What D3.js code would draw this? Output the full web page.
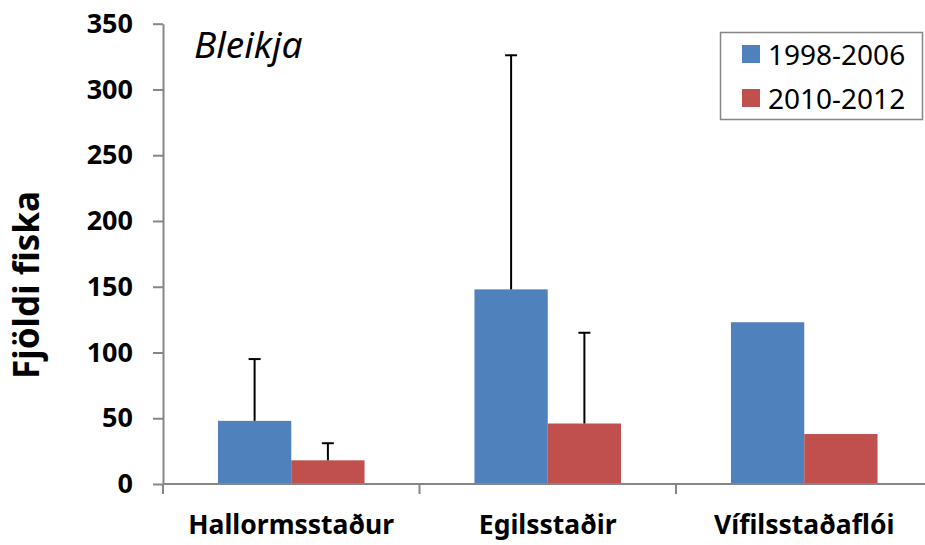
<!DOCTYPE html>
<html lang="en">
<head>
<meta charset="UTF-8" />
<title>Bleikja</title>
<script src="https://cdn.jsdelivr.net/npm/d3@7/dist/d3.min.js"></script>
<style>
  body { margin: 0; background: #fff; }
  svg text { font-family: "Noto Sans", "Open Sans", sans-serif; }
</style>
</head>
<body>
<svg id="svg"></svg>
<script>
const width = 925;
const height = 545;

// data
const categories = ["Hallormsstaður", "Egilsstaðir", "Vífilsstaðaflói"];
const seriesNames = ["1998-2006", "2010-2012"];
const values1998 = [48, 148, 123];
const values2010 = [18, 46, 38];
// upper end of the error bars (null = none)
const err1998 = [95, 326, null];
const err2010 = [31, 115, null];
const yTicks = [0, 50, 100, 150, 200, 250, 300, 350];
const colors = ["#4F81BD", "#C0504D"];

const rows = categories.map((c, i) => ({
  cat: c,
  bars: [
    { s: seriesNames[0], v: values1998[i], e: err1998[i], color: colors[0] },
    { s: seriesNames[1], v: values2010[i], e: err2010[i], color: colors[1] }
  ]
}));

const svg = d3.select("#svg").attr("width", width).attr("height", height);

const x0 = d3.scaleBand().domain(categories).range([163, 932.5]);
const x1 = d3.scaleBand().domain(seriesNames).range([0, x0.bandwidth()]).paddingOuter(0.75);
const y = d3.scaleLinear().domain([0, 350]).range([484, 23.7]);

// bars
const groups = svg.selectAll(".grp")
  .data(rows)
  .join("g")
  .attr("class", "grp")
  .attr("transform", d => `translate(${x0(d.cat)},0)`);

groups.selectAll("rect")
  .data(d => d.bars)
  .join("rect")
  .attr("x", d => x1(d.s))
  .attr("y", d => y(d.v))
  .attr("width", x1.bandwidth())
  .attr("height", d => y(0) - y(d.v))
  .attr("fill", d => d.color);

// error bars
const errs = groups.selectAll(".err")
  .data(d => d.bars.filter(b => b.e != null))
  .join("g")
  .attr("class", "err")
  .attr("stroke", "#000")
  .attr("stroke-width", 2);

errs.append("line")
  .attr("x1", d => x1(d.s) + x1.bandwidth() / 2)
  .attr("x2", d => x1(d.s) + x1.bandwidth() / 2)
  .attr("y1", d => y(d.v))
  .attr("y2", d => y(d.e));

errs.append("line")
  .attr("x1", d => x1(d.s) + x1.bandwidth() / 2 - 6)
  .attr("x2", d => x1(d.s) + x1.bandwidth() / 2 + 6)
  .attr("y1", d => y(d.e))
  .attr("y2", d => y(d.e));

// y axis
const yAxis = svg.append("g")
  .attr("transform", "translate(163,0)")
  .call(d3.axisLeft(y).tickValues(yTicks).tickSize(10).tickSizeOuter(0).tickPadding(20));
yAxis.select(".domain").attr("stroke", "#868686").attr("stroke-width", 2);
yAxis.selectAll(".tick line").attr("stroke", "#868686").attr("stroke-width", 2);
yAxis.selectAll(".tick text")
  .attr("fill", "#000")
  .style("font-size", "27px")
  .style("font-weight", "bold")
  .style("font-family", "'Noto Sans', sans-serif");

// x axis
const xAxis = svg.append("g");
xAxis.append("line")
  .attr("x1", 163).attr("x2", width)
  .attr("y1", y(0)).attr("y2", y(0))
  .attr("stroke", "#868686").attr("stroke-width", 2);
xAxis.selectAll(".xt")
  .data(categories)
  .join("line")
  .attr("class", "xt")
  .attr("x1", d => x0(d)).attr("x2", d => x0(d))
  .attr("y1", y(0)).attr("y2", y(0) + 10)
  .attr("stroke", "#868686").attr("stroke-width", 2);
xAxis.selectAll(".xl")
  .data(categories)
  .join("text")
  .attr("class", "xl")
  .attr("x", d => x0(d) + x1(seriesNames[1]))
  .attr("y", 534)
  .attr("text-anchor", "middle")
  .style("font-size", "26.5px")
  .style("font-weight", "bold")
  .text(d => d);

// y title
svg.append("text")
  .attr("transform", "translate(39,285) rotate(-90)")
  .attr("text-anchor", "middle")
  .style("font-size", "35px")
  .style("font-weight", "bold")
  .text("Fjöldi fiska");

// species label
svg.append("text")
  .attr("x", 194)
  .attr("y", 58)
  .style("font-size", "37px")
  .style("font-style", "italic")
  .text("Bleikja");

// legend
const legend = svg.append("g");
legend.append("rect")
  .attr("x", 720.5).attr("y", 32.5)
  .attr("width", 202).attr("height", 87)
  .attr("fill", "#fff")
  .attr("stroke", "#868686")
  .attr("stroke-width", 1.5);
const items = legend.selectAll(".li")
  .data(seriesNames)
  .join("g")
  .attr("class", "li")
  .attr("transform", (d, i) => `translate(742,${45 + i * 44})`);
items.append("rect")
  .attr("width", 18).attr("height", 18)
  .attr("fill", (d, i) => colors[i]);
items.append("text")
  .attr("x", 26)
  .attr("y", 20)
  .style("font-size", "28px")
  .text(d => d);
</script>
</body>
</html>
